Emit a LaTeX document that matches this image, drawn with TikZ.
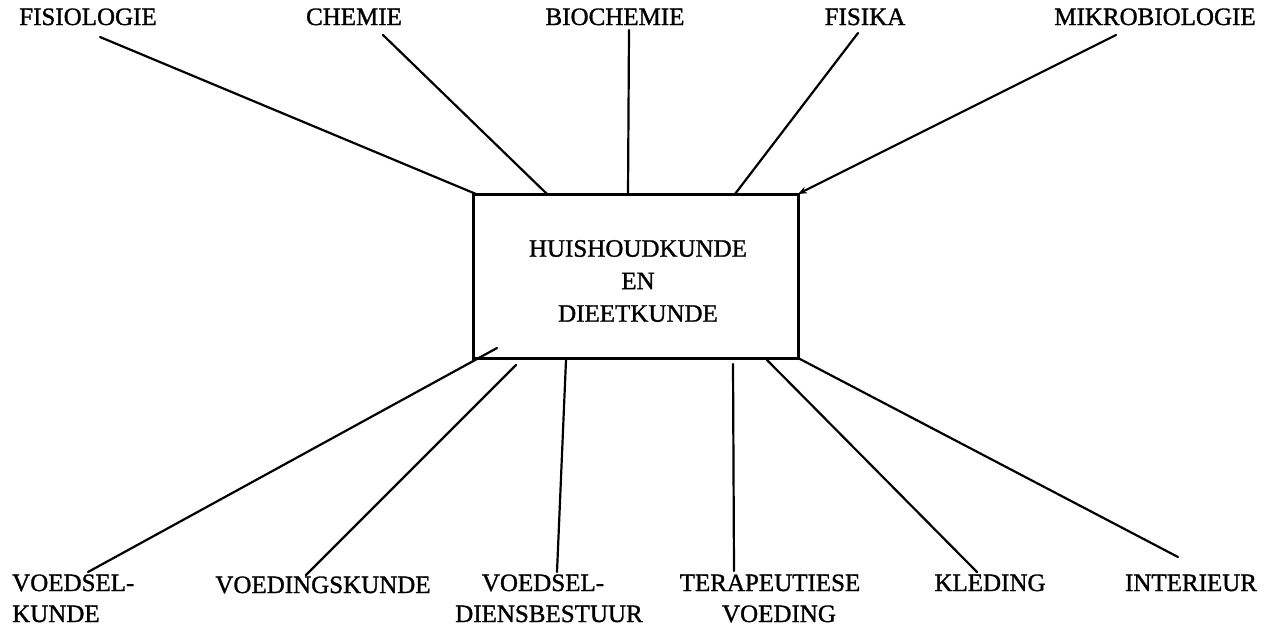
\documentclass[tikz,border=0pt]{standalone}
\usepackage{fontspec}
\setmainfont{Liberation Serif}
\newfontfamily\labfont[FakeBold=1.2]{Liberation Serif}
\usetikzlibrary{calc,arrows.meta}
\begin{document}
\begin{tikzpicture}[x=1pt,y=-1pt,
  lab/.style={font=\labfont\fontsize{25}{33}\selectfont, inner sep=0pt, anchor=base},
  labl/.style={lab, anchor=base west},
  conn/.style={line width=2.2pt, line cap=round},
  mainbox/.style={draw, line width=3pt, outer sep=0pt, inner sep=0pt,
    minimum width=325pt, minimum height=164pt}]
\useasboundingbox (0,0) rectangle (1273,633);
% central box
\node[mainbox] (box) at (635.5,276) {};
\node[lab, align=center, font=\labfont\fontsize{25}{32.5}\selectfont, anchor=center] (boxtext) at (638,281)
  {HUISHOUDKUNDE\\EN\\DIEETKUNDE};
% top labels
\node[lab] (fisio) at (88,25) {FISIOLOGIE};
\node[lab] (chem) at (354,25) {CHEMIE};
\node[lab] (bioch) at (615,25) {BIOCHEMIE};
\node[lab] (fisika) at (865,25) {FISIKA};
\node[lab] (mikro) at (1155,25) {MIKROBIOLOGIE};
% bottom labels
\node[labl] (vk1) at (12,591) {VOEDSEL-};
\node[labl] (vk2) at (12,622) {KUNDE};
\node[lab] (vgk) at (323,593) {VOEDINGSKUNDE};
\node[lab] (vd1) at (543,591) {VOEDSEL-};
\node[lab] (vd2) at (549,622) {DIENSBESTUUR};
\node[lab] (tv1) at (770,591) {TERAPEUTIESE};
\node[lab] (tv2) at (779,622) {VOEDING};
\node[lab] (kled) at (990,591) {KLEDING};
\node[lab] (inter) at (1191,591) {INTERIEUR};
% free ends of connectors (near the labels)
\coordinate (fisio-e) at (100,37);
\coordinate (chem-e) at (383,35);
\coordinate (bioch-e) at (629,30);
\coordinate (fisika-e) at (858,33);
\coordinate (mikro-e) at (1116,35);
\coordinate (vk-e) at (88,572);
\coordinate (vgk-e) at (306,575);
\coordinate (vd-e) at (557,572);
\coordinate (tv-e) at (734,571);
\coordinate (kled-e) at (977,572);
\coordinate (inter-e) at (1178,557);
% connectors
\draw[conn] (fisio-e) -- ($(box.north west)+(3,0)$);
\draw[conn] (chem-e) -- ($(box.north west)+(74,0)$);
\draw[conn] (bioch-e) -- ($(box.north west)+(155,0)$);
\draw[conn] (fisika-e) -- ($(box.north west)+(262,0)$);
\draw[conn, -{Stealth[length=9pt,width=7pt]}] (mikro-e) -- (box.north east);
\draw[conn] ($(box.south west)+(24,-10)$) -- (vk-e);
\draw[conn] ($(box.south west)+(43,7)$) -- (vgk-e);
\draw[conn] ($(box.south west)+(93,2)$) -- (vd-e);
\draw[conn] ($(box.south west)+(260,6)$) -- (tv-e);
\draw[conn] ($(box.south west)+(294,2)$) -- (kled-e);
\draw[conn] (box.south east) -- (inter-e);
\end{tikzpicture}
\end{document}
